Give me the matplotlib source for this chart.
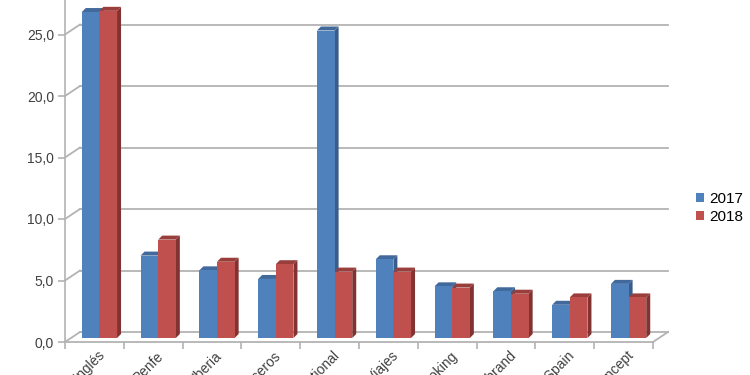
import matplotlib
matplotlib.use('Agg')
import matplotlib.pyplot as plt
from matplotlib.patches import Polygon, Patch

categories = ["El Corte Inglés", "Renfe", "Iberia", "Cruceros", "Travel International",
              "Halcón Viajes", "Booking", "Spain brand", "Visit Spain", "Travel Concept"]
series_names = ["2017", "2018"]
values_2017 = [26.5, 6.7, 5.5, 4.8, 25.0, 6.4, 4.2, 3.8, 2.7, 4.4]
values_2018 = [26.6, 8.0, 6.2, 6.0, 5.4, 5.4, 4.1, 3.6, 3.3, 3.3]
y_ticks = [0, 5, 10, 15, 20, 25]
y_tick_labels = ["0,0", "5,0", "10,0", "15,0", "20,0", "25,0"]

front = ["#4F81BD", "#C0504D"]
side = ["#385D8A", "#823230"]
top = ["#41699B", "#9A3E3C"]
grid_c = "#B3B3B3"
text_c = "#404040"

W, H = 750, 375
fig = plt.figure(figsize=(7.5, 3.75), dpi=100)
x0_px, x1_px, y0_px = 65, 653, 342
px_per_unit = 12.3
ax = fig.add_axes([x0_px / W, 1 - y0_px / H, (x1_px - x0_px) / W, y0_px / H])
n = len(categories)
ax.set_xlim(0, n)
ax.set_ylim(0, y0_px / px_per_unit)
for s in ["top", "right", "bottom"]:
    ax.spines[s].set_visible(False)
ax.spines["left"].set_color(grid_c)
ax.spines["left"].set_linewidth(1.2)

sx = ax.transData.transform((1, 0))[0] - ax.transData.transform((0, 0))[0]
sy = ax.transData.transform((0, 1))[1] - ax.transData.transform((0, 0))[1]
# depth offsets (in data units from pixels)
bdx, bdy = 15 / sx, 10 / sy   # back wall
cdx, cdy = 5 / sx, 4 / sy     # bar placement depth
sdx, sdy = 4 / sx, 4 / sy     # bar thickness

lw = 1.3
for v in y_ticks:
    ax.plot([bdx, n + bdx], [v + bdy, v + bdy], color=grid_c, lw=lw, clip_on=False, zorder=1)
    ax.plot([0, bdx], [v, v + bdy], color=grid_c, lw=lw, clip_on=False, zorder=1)
ax.plot([0, n], [0, 0], color=grid_c, lw=lw, clip_on=False, zorder=1)
ax.plot([n, n + bdx], [0, bdy], color=grid_c, lw=lw, clip_on=False, zorder=1)

bw = 0.3
z = 2
for i in range(n):
    c = i + 0.5 + cdx
    for k, vals in enumerate([values_2017, values_2018]):
        h = vals[i]
        xl = c - bw + k * bw
        xr = xl + bw
        yb = cdy
        ax.add_patch(Polygon([(xr, yb), (xr + sdx, yb + sdy), (xr + sdx, yb + h + sdy), (xr, yb + h)],
                             closed=True, facecolor=side[k], edgecolor='none', zorder=z, clip_on=False))
        ax.add_patch(Polygon([(xl, yb + h), (xr, yb + h), (xr + sdx, yb + h + sdy), (xl + sdx, yb + h + sdy)],
                             closed=True, facecolor=top[k], edgecolor='none', zorder=z + 0.1, clip_on=False))
        ax.add_patch(Polygon([(xl, yb), (xr, yb), (xr, yb + h), (xl, yb + h)],
                             closed=True, facecolor=front[k], edgecolor='none', zorder=z + 0.2, clip_on=False))
        z += 1

ax.set_yticks(y_ticks)
ax.set_yticklabels(y_tick_labels, fontsize=10, color=text_c, family="Liberation Sans")
ax.tick_params(axis='y', length=5, color=grid_c, width=1.2, pad=3)

ax.set_xticks(range(n + 1))
ax.set_xticklabels([])
ax.tick_params(axis='x', which='major', length=5, color=grid_c, width=1.2)
ax.set_xticks([i + 0.5 + 3 / sx for i in range(n)], minor=True)
ax.set_xticklabels(categories, minor=True, rotation=45, ha='right', va='top',
                   rotation_mode='anchor', fontsize=10, color=text_c,
                   family="Liberation Sans")
ax.tick_params(axis='x', which='minor', length=0, pad=5)

handles = [Patch(facecolor=front[0]), Patch(facecolor=front[1])]
fig.legend(handles, series_names, loc='center left', bbox_to_anchor=(682 / W, 1 - 208 / H),
           frameon=False, handlelength=0.55, handleheight=0.55,
           handletextpad=0.35, labelspacing=0.3, prop={'family': 'Liberation Sans', 'size': 11})

fig.savefig("out.png", dpi=100)
